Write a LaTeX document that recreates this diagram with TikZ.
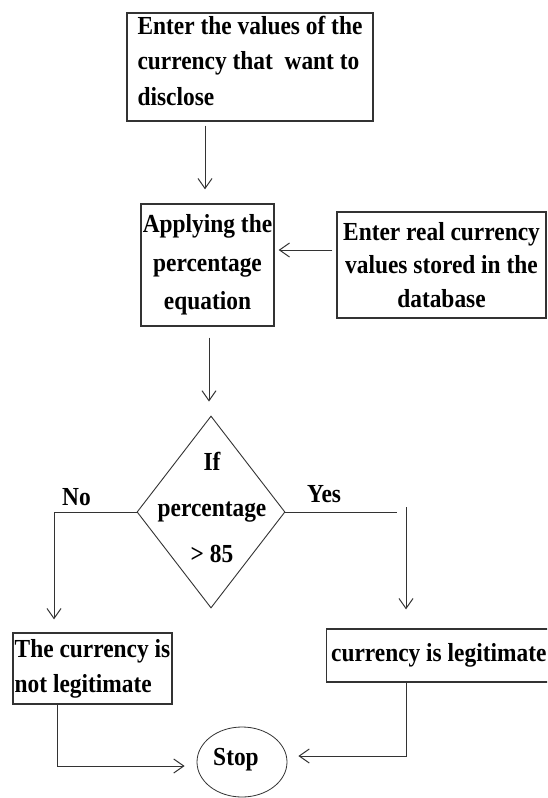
\documentclass[tikz,border=0pt]{standalone}
\usepackage{fontspec}
\setmainfont{Liberation Serif}[FakeStretch=0.9]
\usetikzlibrary{shapes.geometric,arrows.meta,calc}

\begin{document}
\begin{tikzpicture}[x=1pt,y=-1pt,
  every node/.style={inner sep=0pt, text=black,
    font=\bfseries\fontsize{26pt}{34pt}\selectfont},
  lines/.style={font=\bfseries\fontsize{26pt}{#1}\selectfont},
  box/.style={draw=black!80, line width=1.3pt, rectangle},
  link/.style={draw=black!80, line width=1pt},
  arrowlink/.style={link, -{Straight Barb[length=10pt,width=14pt]}},
]
\useasboundingbox (0,0) rectangle (547,798);
\fill[white] (0,0) rectangle (547,798);
\clip (0,0) rectangle (547,798);

% process boxes
\node[box, minimum width=246pt, minimum height=108pt, align=left,
      lines=35.4pt, text depth=13pt] (enter) at (250,67)
  {Enter the values of the\\currency that\ \ want to\\disclose};
\node[box, minimum width=133pt, minimum height=122pt, align=center,
      lines=38.5pt] (apply) at (207.5,265)
  {Applying the\\percentage\\equation};
\node[box, minimum width=209pt, minimum height=106pt, align=center,
      lines=33.5pt] (db) at (441.5,265)
  {Enter real currency\\values stored in the\\database};

% decision
\node[draw=black!80, line width=0.9pt, diamond, minimum width=148pt,
      minimum height=192pt] (test) at (211,512) {};
\node[align=center, lines=46pt] (testtext) at (212,507)
  {If\\percentage\\> 85};
\node[anchor=base west] (nolabel) at (62,505) {No};
\node[anchor=base west] (yeslabel) at (307,502) {Yes};

% outcomes
\node[box, minimum width=159pt, minimum height=71pt, inner xsep=1pt,
      align=left, lines=35pt] (reject) at (92.5,668.5)
  {The currency is\\not legitimate};
\node[box, inner xsep=4.5pt, minimum height=53pt, anchor=west] (accept)
  at (326,655.5) {currency is legitimate};

% terminal
\node[draw=black!80, line width=0.8pt, ellipse, minimum width=90pt,
      minimum height=70pt] (stop) at (242,762) {};
\node (stoptext) at (236,759.7) {Stop};

% connectors
\coordinate (c1) at ($(apply.north)+(-2.5,0)$);
\draw[arrowlink, shorten <=4pt, shorten >=14pt] (c1 |- enter.south) -- (c1);
\draw[arrowlink, shorten <=4pt, shorten >=4pt]
  ([yshift=15pt]db.west) -- ([yshift=15pt]apply.east);
\coordinate (c2) at ($(apply.south)+(1.5,0)$);
\draw[arrowlink, shorten <=11pt, shorten >=14pt] (c2) -- (c2 |- test.north);

\coordinate (nocorner) at (54,512);
\draw[arrowlink, shorten >=13pt] (test.west) -- (nocorner) -- (nocorner |- reject.north);

\coordinate (yesend) at (397,512);
\coordinate (yestop) at (406,507);
\draw[link] (test.east) -- (yesend);
\draw[arrowlink, shorten >=19pt] (yestop) -- (yestop |- accept.north);

\coordinate (nobend) at (57,766);
\draw[arrowlink, shorten >=12pt] (nobend |- reject.south) -- (nobend) -- (nobend -| stop.west);
\coordinate (yesbend) at (406,756);
\draw[arrowlink, shorten >=11pt] (yesbend |- accept.south) -- (yesbend) -- (yesbend -| stop.east);
\end{tikzpicture}
\end{document}
